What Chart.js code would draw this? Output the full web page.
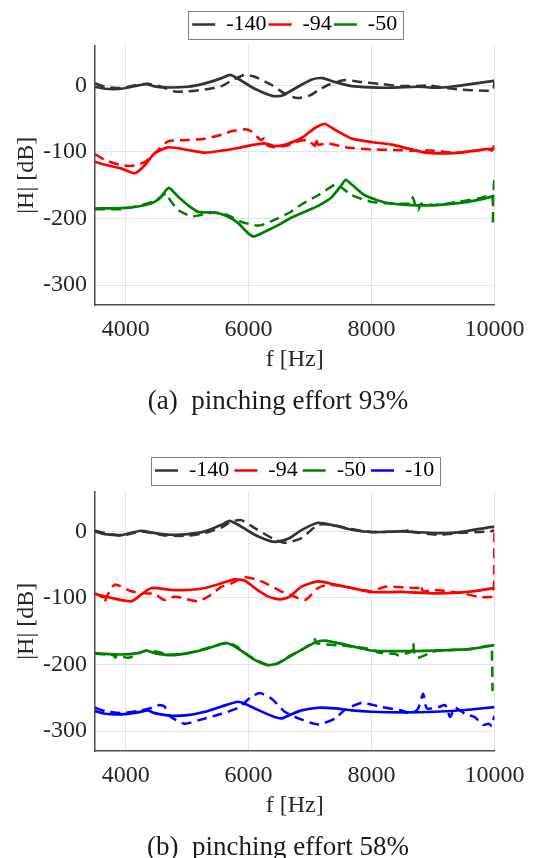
<!DOCTYPE html>
<html lang="en">
<head>
  <meta charset="UTF-8" />
  <title>|H| vs frequency</title>
  <style>
    body { margin: 0; background: #ffffff; width: 535px; height: 858px; overflow: hidden; position: relative; font-family: "Liberation Serif", serif; }
    .panel { position: absolute; left: 0; }
    .caption { position: absolute; left: 21px; width: 514px; text-align: center; font-size: 27px; line-height: 30px; color: #1a1a1a; white-space: pre; }
  </style>
  <script src="https://cdn.jsdelivr.net/npm/chart.js"></script>
</head>
<body>
  <canvas id="chart-a" class="panel" width="535" height="430" style="top:0px"></canvas>
  <div class="caption" style="top:385px">(a)  pinching effort 93%</div>
  <canvas id="chart-b" class="panel" width="535" height="412" style="top:446px"></canvas>
  <div class="caption" style="top:831px">(b)  pinching effort 58%</div>

  <script>
    // legend labels and colours
    const labelsA = ['-140', '-94', '-50'];
    const labelsB = ['-140', '-94', '-50', '-10'];
    const colors = ['#333333', '#ff0000', '#008000', '#0000ff'];

    // (a) pinching effort 93%  -- [f Hz, |H| dB]
    const aBlackSolid = [[3500,-2],[3660,-5],[3930,-5],[4200,0],[4340,2],[4450,-1],[4630,-3],[5010,-2],[5290,3],[5560,11],[5700,16],[5830,10],[6100,-5],[6400,-16],[6550,-15],[6860,1],[7030,9],[7200,11],[7410,5],[7680,-1],[8000,-3],[8220,-3.5],[8760,-2],[9030,-3.5],[9300,-2],[9580,1.5],[9930,6],[10000,7]];
    const aBlackDash = [[3500,3],[3660,-2],[3930,-4],[4090,-1],[4200,1],[4360,2.5],[4550,-1],[4800,-9],[5010,-9],[5290,-6],[5560,-1],[5720,7],[5940,16],[6100,13],[6370,1],[6600,-13],[6790,-19],[7000,-15],[7120,-8],[7300,1],[7570,8],[7840,5],[8160,2],[8490,-1],[8900,0],[8930,2],[9000,-1],[9410,-6],[9850,-8],[9980,-7],[10000,6]];
    const aRedSolid = [[3500,-115],[3700,-120],[3930,-125],[4150,-132],[4310,-120],[4470,-102],[4690,-93],[5010,-97],[5290,-101],[5560,-98],[5830,-94],[6100,-89],[6260,-87],[6420,-91],[6600,-89],[6860,-79],[7080,-64],[7240,-58],[7410,-67],[7680,-80],[8000,-85],[8330,-89],[8600,-95],[8870,-101],[9140,-102],[9470,-101],[9740,-97],[10000,-95]];
    const aRedDash = [[3500,-103],[3660,-112],[3900,-119],[4090,-121],[4310,-115],[4530,-97],[4690,-84],[5010,-82],[5290,-80],[5560,-74],[5720,-69],[5940,-66],[6040,-69],[6200,-82],[6260,-79],[6300,-90],[6420,-93],[6640,-90],[6810,-84],[6970,-82],[7080,-91],[7100,-79],[7130,-89],[7300,-87],[7570,-93],[7950,-96],[8380,-97],[8650,-98],[9030,-98],[9300,-101],[9630,-99],[9900,-96],[9960,-98],[10000,-90]];
    const aGreenSolid = [[3500,-185],[3930,-184.5],[4200,-182],[4420,-177],[4550,-170],[4700,-154],[4850,-167],[5010,-180],[5180,-190],[5450,-191],[5660,-197],[5830,-207],[5990,-222],[6080,-227],[6260,-220],[6480,-210],[6670,-200],[6860,-192],[7130,-181],[7350,-168],[7510,-150],[7580,-142],[7680,-149],[7890,-165],[8220,-176],[8650,-180],[9030,-180],[9410,-177],[9740,-172],[10000,-166]];
    const aGreenDash = [[3500,-186],[3930,-186],[4200,-181],[4470,-174],[4660,-162],[4720,-172],[4850,-187],[5070,-197],[5200,-195],[5450,-191],[5660,-195],[5880,-205],[6100,-210],[6210,-210],[6420,-202],[6670,-191],[6860,-179],[7130,-165],[7300,-155],[7410,-149],[7490,-152],[7680,-165],[8000,-175],[8220,-177],[8640,-177],[8670,-168],[8700,-176],[8760,-188],[8800,-178],[9030,-180],[9410,-175],[9740,-170],[9960,-166],[9975,-210],[9990,-150],[10000,-142]];

    // (b) pinching effort 58%
    const bBlackSolid = [[3500,0],[3660,-4],[3930,-5.5],[4250,1],[4470,-2.5],[4740,-5],[5010,-4],[5290,0],[5560,10],[5690,16],[5830,10],[6100,-5],[6370,-15],[6500,-15],[6670,-10],[6860,2],[7130,13],[7410,8.5],[7680,2.5],[8000,-1],[8490,0],[9030,-2.5],[9410,-1.5],[9930,6.5],[10000,7]];
    const bBlackDash = [[3500,1],[3930,-6.5],[4250,0],[4630,-6],[5010,-6.5],[5290,-2.5],[5560,6],[5720,15],[5880,17],[6100,5],[6420,-12],[6600,-17],[6860,-10],[7130,10],[7350,10],[7680,3.5],[8000,-1],[8580,1],[8600,5],[8620,0],[9090,-5],[9410,-2.5],[9930,0],[10000,2]];
    const bRedSolid = [[3500,-94],[3770,-100],[4090,-105],[4250,-95],[4420,-85],[4740,-88],[5010,-88],[5290,-85],[5560,-78],[5770,-72],[5940,-74],[6100,-85],[6320,-98],[6510,-102],[6670,-98],[6860,-83],[7130,-75],[7410,-80],[7680,-85],[8000,-91],[8490,-91],[9030,-93],[9410,-92],[9740,-89],[10000,-85]];
    const bRedDash = [[3500,-93],[3640,-100],[3660,-107],[3680,-100],[3820,-80],[4090,-90],[4310,-93],[4470,-94],[4630,-103],[4800,-98],[5180,-105],[5390,-95],[5560,-83],[5720,-78],[5940,-69],[6150,-73],[6320,-80],[6530,-90],[6670,-95],[6920,-103],[7130,-85],[7300,-80],[7570,-83],[8000,-90],[8220,-83],[8760,-85],[8800,-80],[8840,-90],[9030,-88],[9410,-92],[9740,-98],[9960,-98],[9990,-85],[10000,0]];
    const bGreenSolid = [[3500,-183],[3930,-185],[4200,-183],[4340,-179],[4470,-183],[4740,-186],[5010,-183],[5290,-177],[5560,-169],[5660,-168],[5830,-176],[6100,-193],[6320,-201],[6480,-198],[6670,-188],[6860,-178],[7080,-167],[7240,-164],[7570,-170],[8000,-179],[8490,-180],[9030,-179],[9580,-177],[10000,-171]];
    const bGreenDash = [[3500,-184],[3800,-186],[3830,-190],[3860,-185],[4040,-190],[4340,-179],[4740,-185],[5010,-183],[5560,-169],[5660,-167],[5830,-174],[5860,-178],[6100,-192],[6320,-201],[6480,-198],[6670,-187],[6860,-178],[7060,-166],[7080,-162],[7100,-168],[7570,-172],[8000,-177],[8110,-182],[8380,-184],[8430,-186],[8660,-180],[8680,-168],[8700,-185],[8760,-190],[9030,-180],[9580,-177],[9950,-172],[9960,-182],[9970,-240]];
    const bBlueSolid = [[3500,-270],[3660,-274],[3930,-275],[4200,-272],[4360,-269],[4470,-273],[4740,-277],[5010,-276],[5290,-271],[5560,-263],[5830,-256],[5940,-259],[6100,-266],[6370,-277],[6530,-281],[6670,-276],[6860,-269],[7130,-265],[7410,-266],[7680,-269],[8000,-271],[8490,-272],[9030,-271],[9580,-268],[10000,-264]];
    const bBlueDash = [[3500,-265],[3660,-270],[3930,-273],[4200,-270],[4390,-266],[4550,-261],[4630,-263],[4700,-275],[4770,-281],[4960,-289],[5180,-284],[5560,-274],[5830,-265],[6040,-249],[6180,-243],[6370,-251],[6590,-271],[6810,-281],[7130,-290],[7410,-281],[7570,-268],[7840,-258],[8170,-264],[8490,-269],[8650,-274],[8760,-266],[8840,-244],[8900,-266],[9090,-264],[9200,-261],[9280,-279],[9360,-265],[9520,-274],[9680,-279],[9820,-291],[9900,-289],[9960,-292],[10000,-277]];

    const xTicks = [4000, 6000, 8000, 10000];
    const yTicks = [-300, -200, -100, 0];

    Chart.defaults.font.family = '"Liberation Serif", "Times New Roman", serif';
    const textColor = '#262626';

    // MATLAB style box around the legend entries
    const legendFrame = {
      id: 'legendFrame',
      afterDraw(chart) {
        const boxes = chart.legend && chart.legend.legendHitBoxes;
        if (!boxes || !boxes.length) return;
        let l = Infinity, r = -Infinity, t = Infinity, b = -Infinity;
        boxes.forEach(h => {
          l = Math.min(l, h.left); r = Math.max(r, h.left + h.width);
          t = Math.min(t, h.top); b = Math.max(b, h.top + h.height);
        });
        const ctx = chart.ctx;
        ctx.save();
        ctx.strokeStyle = '#808080';
        ctx.lineWidth = 1;
        ctx.strokeRect(Math.round(l - 4) + 0.5, Math.round(t - 3) + 0.5, Math.round(r - l + 10), Math.round(b - t + 6));
        ctx.restore();
      }
    };

    const toXY = pts => pts.map(([x, y]) => ({ x, y }));

    function buildDatasets(labels, solids, dashes) {
      const sets = [];
      labels.forEach((lab, i) => {
        sets.push({ label: lab, data: toXY(solids[i]), borderColor: colors[i], backgroundColor: colors[i], borderWidth: 2.7 });
      });
      labels.forEach((lab, i) => {
        sets.push({ label: lab + ' ref', ref: true, data: toXY(dashes[i]), borderColor: colors[i], backgroundColor: colors[i], borderWidth: 2.5, borderDash: [10, 6] });
      });
      return sets;
    }

    function makeChart(id, datasets, bottomPad, legendGap) {
      const ctx = document.getElementById(id).getContext('2d');
      return new Chart(ctx, {
        type: 'line',
        data: { datasets },
        plugins: [legendFrame],
        options: {
          responsive: false,
          animation: false,
          // legend row centre ~24.5px, plot top at 45.5px
          layout: { padding: { top: 13.5 - legendGap, right: 40.6, bottom: bottomPad, left: 0 } },
          elements: { point: { radius: 0 }, line: { tension: 0.2 } },
          plugins: {
            legend: {
              position: 'top',
              fullSize: false,
              labels: {
                usePointStyle: true,
                pointStyle: 'line',
                pointStyleWidth: 23,
                padding: legendGap,
                color: '#000000',
                font: { size: 22 },
                filter: (item, data) => !data.datasets[item.datasetIndex].ref
              }
            },
            tooltip: { enabled: false }
          },
          scales: {
            x: {
              type: 'linear',
              min: 3500,
              max: 10000,
              afterBuildTicks: s => { s.ticks = xTicks.map(v => ({ value: v })); },
              afterFit: s => { s.height = 70; },
              ticks: { padding: 10, color: textColor, font: { size: 24 }, maxRotation: 0, autoSkip: false, callback: v => String(v) },
              grid: { color: '#e4e4e4', drawTicks: false },
              border: { color: '#4d4d4d', width: 1.5 },
              title: { display: true, text: 'f [Hz]', color: textColor, font: { size: 24 }, padding: { top: 0, bottom: 1 } }
            },
            y: {
              min: -330,
              max: 60,
              afterBuildTicks: s => { s.ticks = yTicks.map(v => ({ value: v })); },
              afterFit: s => { s.width = 95; },
              ticks: { padding: 8, color: textColor, font: { size: 24 }, callback: v => String(v) },
              grid: { color: '#e4e4e4', drawTicks: false },
              border: { color: '#4d4d4d', width: 1.5 },
              title: { display: true, text: '|H| [dB]', color: textColor, font: { size: 24 }, padding: { top: 12, bottom: 0 } }
            }
          }
        }
      });
    }

    makeChart('chart-a', buildDatasets(labelsA,
      [aBlackSolid, aRedSolid, aGreenSolid],
      [aBlackDash, aRedDash, aGreenDash]), 55, 2);

    makeChart('chart-b', buildDatasets(labelsB,
      [bBlackSolid, bRedSolid, bGreenSolid, bBlueSolid],
      [bBlackDash, bRedDash, bGreenDash, bBlueDash]), 37, 5);
  </script>
</body>
</html>
